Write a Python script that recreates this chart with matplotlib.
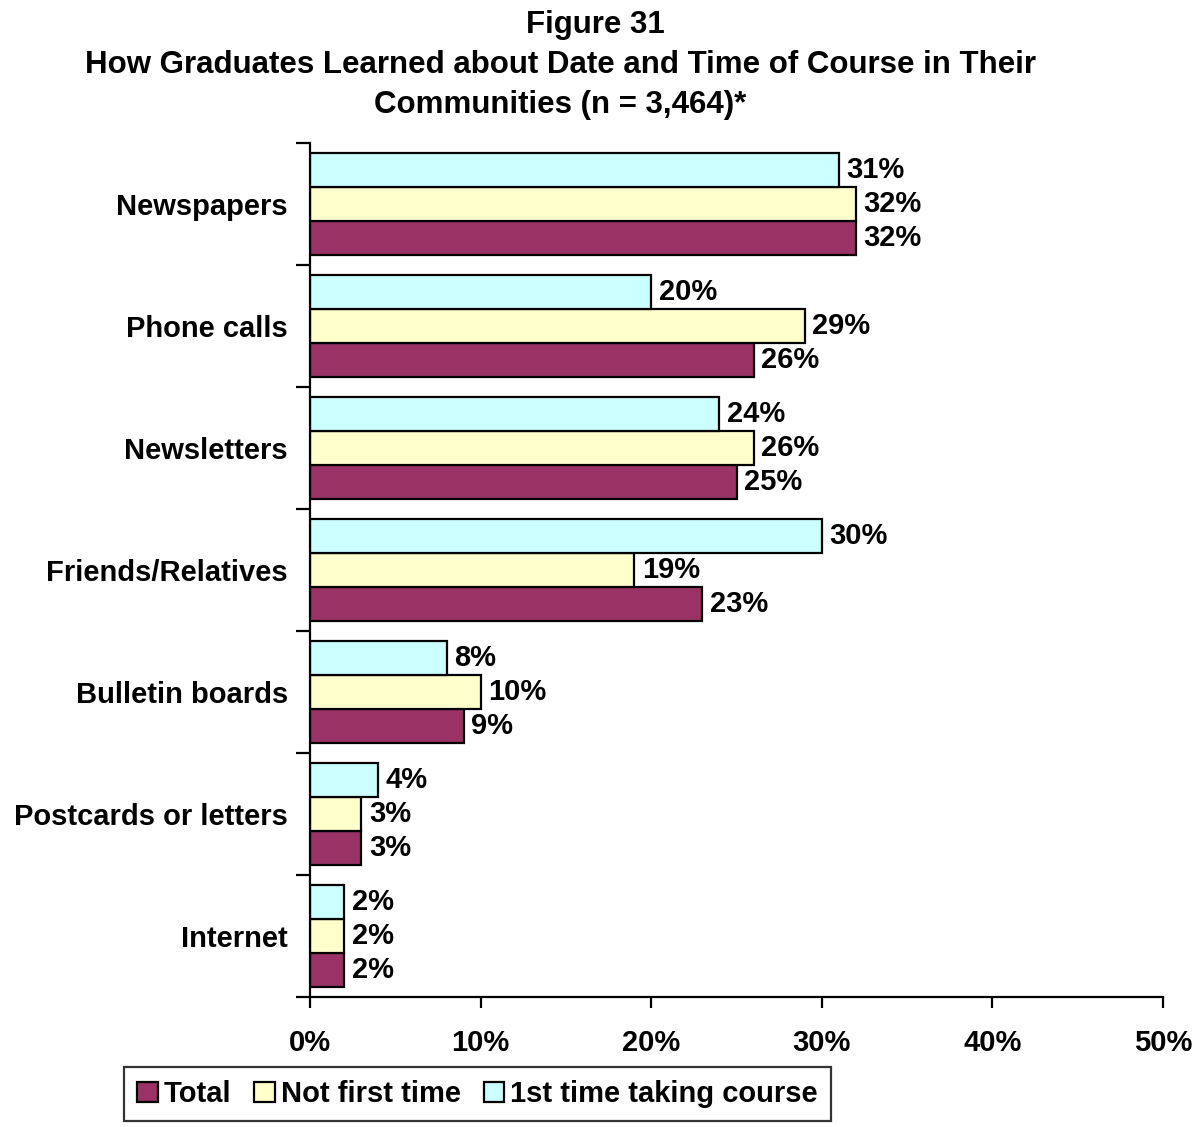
import matplotlib.pyplot as plt
import numpy as np
from matplotlib.patches import Patch

plt.rcParams['font.family'] = ['Liberation Sans', 'DejaVu Sans']
plt.rcParams['font.weight'] = 'bold'

# Datos por categoría (de arriba hacia abajo)
categories = ["Newspapers", "Phone calls", "Newsletters", "Friends/Relatives",
              "Bulletin boards", "Postcards or letters", "Internet"]
total = [32, 26, 25, 23, 9, 3, 2]
not_first = [32, 29, 26, 19, 10, 3, 2]
first_time = [31, 20, 24, 30, 8, 4, 2]

series_names = ["Total", "Not first time", "1st time taking course"]
colors = ["#993366", "#FFFFCC", "#CCFFFF"]
xticks = [0, 10, 20, 30, 40, 50]

fs = 21

fig = plt.figure(figsize=(12.03, 11.27), dpi=100)
ax = fig.add_axes([0.2577, 0.1153, 0.7091, 0.7578])

n = len(categories)
y = np.arange(n)[::-1].astype(float)  # Newspapers arriba
h = 0.279
offsets = [-h, 0.0, h]  # Total abajo, 1ra vez arriba

for vals, col, off in zip([total, not_first, first_time], colors, offsets):
    bars = ax.barh(y + off, vals, height=h, color=col, edgecolor="black", linewidth=1.6)
    for b, v in zip(bars, vals):
        ax.text(b.get_width() + 0.45, b.get_y() + b.get_height() / 2, f"{v}%",
                va="center", ha="left", fontsize=fs, fontweight="bold")

ax.set_xlim(0, 50)
ax.set_ylim(-0.5, n - 0.5)

ax.set_xticks(xticks)
ax.set_xticklabels([f"{t}%" for t in xticks], fontsize=fs, fontweight="bold")
ax.tick_params(axis="x", direction="out", length=8, width=1.6, pad=15)

# Ticks menores en los límites de cada categoría, etiquetas centradas
ax.set_yticks(y)
ax.set_yticklabels(categories, fontsize=fs, fontweight="bold")
ax.set_yticks(np.arange(n + 1) - 0.5, minor=True)
ax.tick_params(axis="y", which="major", length=0, pad=16)
ax.tick_params(axis="y", which="minor", direction="out", length=10, width=1.6)

for s in ["top", "right"]:
    ax.spines[s].set_visible(False)
for s in ["left", "bottom"]:
    ax.spines[s].set_linewidth(1.6)

# Título
tfs = 22.5
fig.text(0.495, 0.978, "Figure 31", ha="center", va="center", fontsize=tfs, fontweight="bold")
fig.text(0.466, 0.942, "How Graduates Learned about Date and Time of Course in Their",
         ha="center", va="center", fontsize=tfs, fontweight="bold")
fig.text(0.466, 0.907, "Communities (n = 3,464)*", ha="center", va="center",
         fontsize=tfs, fontweight="bold")

handles = [Patch(facecolor=c, edgecolor="black", linewidth=1.6) for c in colors]
leg = fig.legend(handles, series_names, loc="center", bbox_to_anchor=(0.397, 0.0293),
                 ncol=3, frameon=True, fancybox=False, edgecolor="black",
                 prop={"size": fs, "weight": "bold"}, handlelength=0.7, handleheight=0.7,
                 handletextpad=0.2, columnspacing=0.8, borderpad=0.45, borderaxespad=0)
leg.get_frame().set_linewidth(1.6)

plt.savefig("out.png", dpi=100)
